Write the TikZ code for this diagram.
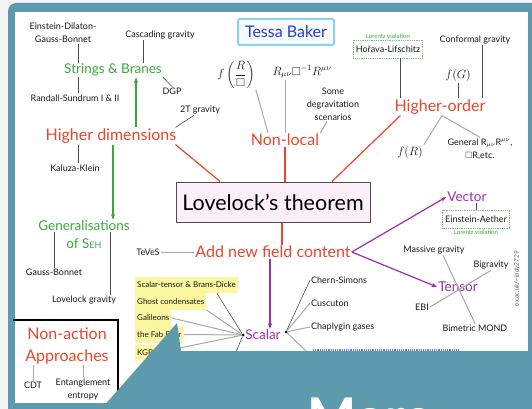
\documentclass[tikz,border=0pt]{standalone}
\usepackage{amsmath,amssymb}
\usepackage{fontspec}
\setmainfont{Lato}
\usepackage{xcolor}
\definecolor{cTeal}{HTML}{5E9AAE}
\definecolor{cRed}{HTML}{E8472B}
\definecolor{cGreen}{HTML}{3BA83B}
\definecolor{cPurple}{HTML}{9A2FA6}
\definecolor{cBlue}{HTML}{2A3BD0}
\definecolor{cSky}{HTML}{8FD0F2}
\definecolor{cYellow}{HTML}{FBF6A0}
\definecolor{cText}{HTML}{1A1A1A}
\definecolor{cLine}{HTML}{4D4D4D}
\definecolor{cGray}{HTML}{A8A8A8}
\definecolor{cPink}{HTML}{FBF0FA}
\usepackage{tikz}
\usetikzlibrary{positioning,arrows.meta,calc}
\tikzset{
  node-label/.style={font=\fontsize{9}{13}\selectfont,text=cText,
    inner sep=1pt,align=center},
  node-cat/.style={font=\fontsize{16}{22}\selectfont,text=cRed,
    inner sep=1pt,align=center},
  node-green/.style={font=\fontsize{13.5}{15}\selectfont,text=cGreen,inner sep=1pt},
  node-purple/.style={font=\fontsize{13.5}{15}\selectfont,text=cPurple,inner sep=1pt},
  node-tiny/.style={font=\fontsize{6}{7}\selectfont,text=cGreen,inner sep=0.5pt},
  node-lorentz/.style={node-label,draw=cGreen!70,densely dotted,thick,
    inner sep=2.5pt,minimum height=18pt},
  node-yellow/.style={node-label,font=\fontsize{8}{10}\selectfont,fill=cYellow,
    anchor=west,inner sep=2pt,minimum height=16.5pt},
  node-math/.style={font=\fontsize{11.5}{13}\selectfont,text=cText,inner sep=1pt},
  node-main/.style={draw=cLine,line width=1pt,fill=cPink,minimum width=194pt,
    minimum height=40pt,font=\fontsize{21.5}{24}\selectfont,text=black},
  node-name/.style={draw=cSky,line width=2pt,rounded corners=2pt,fill=cSky!10,
    text=cBlue,font=\fontsize{16}{18}\selectfont,minimum width=96pt,
    minimum height=26pt},
  node-dot/.style={circle,fill=black,inner sep=0pt,minimum size=3pt},
  link/.style={draw=cLine,line width=0.6pt},
  link-gray/.style={draw=cGray,line width=1pt},
  link-red/.style={draw=cRed,line width=1.2pt},
  arrow-green/.style={-{Stealth[length=2mm]},draw=cGreen,line width=1.2pt},
  arrow-purple/.style={-{Stealth[length=2mm]},draw=cPurple,line width=1.2pt},
}
\begin{document}
\begin{tikzpicture}[x=1pt,y=-1pt]
  \useasboundingbox (0,0) rectangle (532,409);
  \clip (0,0) rectangle (532,409);
  % slide frame
  \fill[black!4] (0,0) rectangle (532,409);
  \fill[cTeal,rounded corners=8pt] (8,3) rectangle (545,420);
  \fill[white] (15,12) rectangle (528,403);

  \node[node-name] (tessa) at (286,32) {Tessa Baker};

  % higher dimensions
  \node[node-label] (edgb) at (63,33) {Einstein-Dilaton-\\Gauss-Bonnet};
  \node[node-label] (cascade) at (160,35) {Cascading gravity};
  \node[node-green] (strings) at (113,70) {Strings \& Branes};
  \node[node-label] (rs) at (75,98) {Randall-Sundrum I \& II};
  \node[node-label] (dgp) at (172,91) {DGP};
  \node[node-label] (twot) at (200,110) {2T gravity};
  \node[node-cat] (higherdim) at (111,136) {Higher dimensions};
  \node[node-label] (kk) at (75,168) {Kaluza-Klein};
  \node[node-green] (gen1) at (84,226) {Generalisations};
  \node[node-green] (gen2) at (84,244) {of S{\fontsize{9}{9}\selectfont EH}};
  \node[node-label] (gb) at (54,272) {Gauss-Bonnet};
  \node[node-label] (lg) at (84,300) {Lovelock gravity};
  \node[node-label] (teves) at (148,252) {TeVeS};

  % centre, non-local, higher-order
  \node[node-main] (lovelock) at (273,202) {Lovelock's theorem};
  \node[node-cat] (nonlocal) at (285,140) {Non-local};
  \node[node-math] (frbox) at (236,75) {$\displaystyle f\left(\frac{R}{\Box}\right)$};
  \node[node-math] (rboxr) at (302,72) {$R_{\mu\nu}\Box^{-1}R^{\mu\nu}$};
  \node[node-label] (scen) at (333,104) {Some\\degravitation\\scenarios};
  \node[node-cat] (highord) at (440,107) {Higher-order};
  \node[node-lorentz] (horava) at (388,49) {Hořava-Lifschitz};
  \node[node-tiny,above=0.5pt of horava] (lv1) {Lorentz violation};
  \node[node-label] (conf) at (475,40) {Conformal gravity};
  \node[node-math] (fg) at (458,76) {$f(G)$};
  \node[node-math] (fr) at (410,152) {$f(R)$};
  \node[node-label] (general) at (480,149) {General R$_{\mu\nu}$R$^{\mu\nu}$,\\$\Box$R,etc.};

  % new fields
  \node[node-cat] (addnew) at (273,252) {Add new field content};
  \node[node-purple] (vector) at (467,197) {Vector};
  \node[node-lorentz] (aether) at (476,219) {Einstein-Aether};
  \node[node-tiny,below=0.5pt of aether] (lv2) {Lorentz violation};
  \node[node-label] (massive) at (434,250) {Massive gravity};
  \node[node-label] (bigrav) at (491,265) {Bigravity};
  \node[node-purple] (tensor) at (458,287) {Tensor};
  \node[node-label] (ebi) at (422,307) {EBI};
  \node[node-label] (mond) at (475,328) {Bimetric MOND};
  \node[node-purple] (scalar) at (263,335) {Scalar};
  \node[node-dot] (sdotl) at (243,335) {};
  \node[node-dot] (sdotr) at (286,332) {};
  \node[node-yellow] (stbd) at (135,285) {Scalar-tensor \& Brans-Dicke};
  \node[node-yellow] (ghost) at (135,301.5) {Ghost condensates};
  \node[node-yellow] (galil) at (135,318) {Galileons};
  \node[node-yellow] (fab) at (135,334.5) {the Fab Four};
  \node[node-yellow] (kgb) at (135,353) {KGB};
  \node[node-label,anchor=west] (chern) at (310,280) {Chern-Simons};
  \node[node-label,anchor=west] (cusc) at (310,303) {Cuscuton};
  \node[node-label,anchor=west] (chap) at (310,327) {Chaplygin gases};
  \node[node-label,rotate=90,anchor=east,font=\fontsize{6.5}{7}\selectfont\itshape,
    text=black!60] (url) at (517,250) {ox.ac.uk/\textasciitilde lady2729};

  % non-action
  \draw[line width=2.5pt] (13,320) -- (118,320) -- (118,420);
  \node[node-cat] (nonaction) at (67,346) {Non-action\\Approaches};
  \node[node-label] (cdt) at (33,385) {CDT};
  \node[node-label] (entangle) at (83,389) {Entanglement\\entropy};

  % connectors
  \draw[link] ([xshift=15pt]edgb.south) -- ([xshift=15pt]strings.north -| edgb.south);
  \draw[link] ([xshift=-17pt]cascade.south) -- ([xshift=-17pt]strings.north -| cascade.south);
  \draw[link] ([xshift=3pt]rs.north) -- ([xshift=3pt]strings.south -| rs.north);
  \draw[link] (strings.south east) -- (dgp.north);
  \draw[link] ([xshift=-6pt]twot.south) -- ([xshift=-2pt]higherdim.north east);
  \draw[arrow-green] ([xshift=25pt]higherdim.north) -- ([xshift=25pt]strings.south -| higherdim.north);
  \draw[link] ([xshift=3pt]kk.north) -- ([xshift=3pt]higherdim.south -| kk.north);
  \draw[arrow-green] ([xshift=2pt]higherdim.south) -- ([xshift=2pt]gen1.north -| higherdim.south);
  \draw[link] (gb.north) -- (gen1.south -| gb.north);
  \draw[link] ([xshift=26pt]lg.north) -- ([xshift=26pt]gen1.south -| lg.north);
  \draw[link-gray] (teves) -- (addnew);

  \draw[link-red] ([xshift=-53pt]lovelock.north) -- ([xshift=-2pt]higherdim.south east);
  \draw[link-red] (lovelock.north -| nonlocal.south) -- (nonlocal.south);
  \draw[link-red] ([xshift=59pt]lovelock.north) -- ([xshift=7pt]highord.south west);
  \draw[link-red] ([xshift=9pt]lovelock.south) -- ([xshift=9pt]addnew.north -| lovelock.south);

  \draw[link-gray] (frbox.south east) -- ([xshift=-17pt]nonlocal.north);
  \draw[link-gray] (rboxr.south -| nonlocal.north) -- (nonlocal.north);
  \draw[link-gray] ([xshift=-6pt]scen.south) -- (nonlocal.north east);
  \draw[link] ([xshift=12pt]horava.south) -- ([xshift=12pt]highord.north -| horava.south);
  \draw[link] (fg.south) -- (highord.north -| fg.south);
  \draw[link] ([xshift=7pt]conf.south) -- ([xshift=7pt]highord.north -| conf.south);
  \draw[link-gray] ([xshift=2pt]highord.south) -- (fr.north east);
  \draw[link-gray] ([xshift=2pt]highord.south) -- (general.north);

  \draw[link] (aether.north) -- (vector.south -| aether.north);
  \draw[link-gray] ([xshift=9pt]massive.south) -- (mond.north);
  \draw[link-gray] (bigrav.south) -- (ebi.east);
  \draw[arrow-purple] (addnew.east) -- (vector.west);
  \draw[arrow-purple] (addnew.east) -- (tensor.west);
  \draw[arrow-purple] ([xshift=-3pt]addnew.south) -- ([xshift=-3pt]scalar.north -| addnew.south);

  \coordinate (hidl) at (232,362);
  \coordinate (hidr) at (318,362);
  \draw[link] (sdotl) -- ([xshift=-21pt]stbd.south east);
  \draw[link-gray] (sdotl) -- (ghost.south east);
  \draw[link-gray] (sdotl) -- (galil.east);
  \draw[link-gray] (sdotl) -- (fab.east);
  \draw[link-gray] (sdotl) -- (kgb.east);
  \draw[link] (sdotl) -- (hidl);
  \draw[link] (sdotr) -- (chern.west);
  \draw[link-gray] (sdotr) -- (cusc.west);
  \draw[link-gray] (sdotr) -- (chap.west);
  \draw[link-gray] (sdotr) -- (hidr);
  \coordinate (dl-a) at (313,350);
  \coordinate (dl-b) at (460,350);
  \draw[cBlue!70,densely dotted,line width=1.2pt] (dl-a) -- (dl-b);

  \draw[link-gray] (cdt.north) -- (nonaction.south -| cdt.north);
  \draw[link-gray] (entangle.north) -- (nonaction.south -| entangle.north);

  % overlay of the next slide
  \fill[cTeal] (95,416) -- (177,323) -- (181,351) -- (540,351) -- (540,416) -- cycle;
  \node[anchor=base west,text=white,font=\fontsize{52}{56}\selectfont\bfseries,inner sep=0pt]
    (more) at (307,435) {More};
\end{tikzpicture}
\end{document}
